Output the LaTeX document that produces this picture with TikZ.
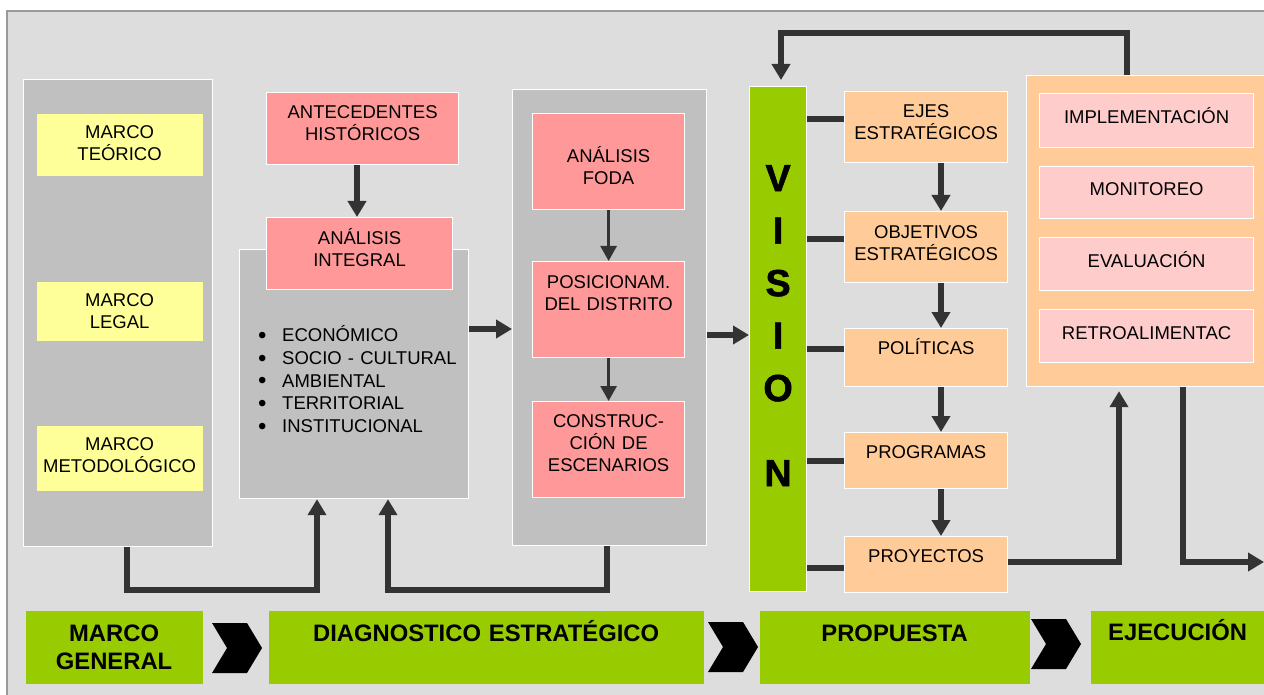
\documentclass[tikz,border=0pt]{standalone}
\usepackage{fontspec}
\setmainfont{Liberation Sans}
\newfontfamily\visionfam[FakeBold=1.6]{Liberation Sans Bold}
\usetikzlibrary{arrows.meta}

\definecolor{framefill}{HTML}{DDDDDD}
\definecolor{framegray}{HTML}{999999}
\definecolor{panelgray}{HTML}{C0C0C0}
\definecolor{marcoyellow}{HTML}{FFFF99}
\definecolor{diagred}{HTML}{FF9999}
\definecolor{propuorange}{HTML}{FFCC99}
\definecolor{ejecpink}{HTML}{FFCCCC}
\definecolor{stagegreen}{HTML}{99CC00}
\definecolor{linegray}{HTML}{333333}

\newcommand\boxfont{\fontsize{18.5}{22}\selectfont}
\newcommand\listfont{\fontsize{18.5}{22.75}\selectfont}
\newcommand\stagefont{\fontsize{23.8}{28}\selectfont\bfseries}
\newcommand\visionfont{\fontsize{37.7}{52.5}\selectfont\visionfam}
\newcommand\dimbullet{\makebox[24pt][l]{\raisebox{-1.8pt}{\fontsize{24}{24}\selectfont\textbullet}}}
\def\chevron(#1,#2){\fill[black] (#1,#2) -- ++(35,0) -- ++(15,25) -- ++(-15,25) -- ++(-35,0) -- ++(15,-25) -- cycle;}

\tikzset{
  panel/.style 2 args={rectangle, draw=white, line width=1.2pt, fill=panelgray,
    inner sep=0pt, minimum width=#1, minimum height=#2, anchor=north west},
  tbox/.style n args={3}{rectangle, draw=white, line width=1.2pt, inner sep=0pt,
    anchor=north west, align=center, text width=#1, text height=#2, text depth=#3,
    font=\boxfont},
  stage/.style n args={3}{tbox={#1}{#2}{#3}, draw=none, fill=stagegreen, font=\stagefont},
  conn/.style={draw=linegray, line width=5.5pt},
  thickarrow/.style={conn, -{Triangle[width=18pt,length=16pt]}},
  thinarrow/.style={draw=linegray, line width=2.7pt, -{Triangle[width=16pt,length=15pt]}}
}

\begin{document}
\begin{tikzpicture}[x=1pt, y=-1pt]
  %%%%% START %%%%%
  \fill[white] (0,0) rectangle (1264,695);
  \useasboundingbox (0,0) rectangle (1264,695);
  \draw[draw=framegray, fill=framefill, line width=1.5pt] (7,11) rectangle (1280,710);

  % marco general
  \node[panel={189pt}{467pt}] (marcocol) at (23,79) {};
  \node[tbox={166pt}{24.6pt}{37.4pt}, draw=none, fill=marcoyellow] (teorico) at (36,113) {MARCO\\TEÓRICO};
  \node[tbox={166pt}{24.6pt}{34.4pt}, draw=none, fill=marcoyellow] (legal) at (36,281) {MARCO\\LEGAL};
  \node[tbox={166pt}{24.6pt}{40.4pt}, draw=none, fill=marcoyellow] (metodo) at (36,425) {MARCO\\METODOLÓGICO};

  % diagnostico
  \node[tbox={192pt}{25.6pt}{46.4pt}, fill=diagred] (antec) at (266,92) {ANTECEDENTES\\HISTÓRICOS};
  \node[panel={229pt}{249pt}] (integralpanel) at (239,249) {};
  \node[tbox={186pt}{26.6pt}{45.4pt}, fill=diagred] (integral) at (266,217) {ANÁLISIS\\INTEGRAL};
  \node[anchor=base west, align=left, inner sep=0pt, text width=200pt, font=\listfont] (dims) at (258,341.6)
    {\dimbullet ECONÓMICO\\
     \dimbullet SOCIO - CULTURAL\\
     \dimbullet AMBIENTAL\\
     \dimbullet TERRITORIAL\\
     \dimbullet INSTITUCIONAL};

  \node[panel={194pt}{456pt}] (focol) at (512,89) {};
  \node[tbox={152pt}{48.6pt}{47.4pt}, fill=diagred] (foda) at (532,113) {ANÁLISIS\\FODA};
  \node[tbox={152pt}{26.6pt}{69.4pt}, fill=diagred] (posic) at (532,261) {POSICIONAM.\\DEL DISTRITO};
  \node[tbox={152pt}{25.6pt}{70.4pt}, fill=diagred] (escen) at (532,401) {CONSTRUC-\\CIÓN DE\\ESCENARIOS};

  % propuesta
  \node[tbox={57pt}{104.5pt}{400.5pt}, fill=stagegreen, font=\visionfont] (vision) at (749,86)
    {V\\I\\S\\I\\O\\[32.5pt]N};
  \node[tbox={163pt}{25.6pt}{45.4pt}, fill=propuorange] (ejes) at (844,91) {EJES\\ESTRATÉGICOS};
  \node[tbox={163pt}{26.6pt}{44.4pt}, fill=propuorange] (objetivos) at (844,211) {OBJETIVOS\\ESTRATÉGICOS};
  \node[tbox={163pt}{25.6pt}{32.4pt}, fill=propuorange] (politicas) at (844,328) {POLÍTICAS};
  \node[tbox={163pt}{25.6pt}{30.4pt}, fill=propuorange] (programas) at (844,432) {PROGRAMAS};
  \node[tbox={163pt}{25.6pt}{30.4pt}, fill=propuorange] (proyectos) at (844,536) {PROYECTOS};

  % ejecucion
  \node[panel={240pt}{311pt}, fill=propuorange] (ejecol) at (1026,75) {};
  \node[tbox={214pt}{29.6pt}{24.4pt}, fill=ejecpink] (impl) at (1039,93) {IMPLEMENTACIÓN};
  \node[tbox={214pt}{28.6pt}{23.4pt}, fill=ejecpink] (monit) at (1039,166) {MONITOREO};
  \node[tbox={214pt}{29.6pt}{23.4pt}, fill=ejecpink] (evalu) at (1039,237) {EVALUACIÓN};
  \node[tbox={214pt}{29.6pt}{23.4pt}, fill=ejecpink] (retro) at (1039,309) {RETROALIMENTAC};

  % etapas
  \node[stage={177pt}{30.5pt}{42.5pt}] (general) at (25,610) {MARCO\\GENERAL};
  \node[stage={435pt}{30.5pt}{42.5pt}] (diagnostico) at (268,610) {DIAGNOSTICO ESTRATÉGICO};
  \node[stage={270pt}{30.5pt}{42.5pt}] (propuesta) at (759,610) {PROPUESTA};
  \node[stage={174pt}{29.5pt}{43.5pt}] (ejecucion) at (1090,610) {EJECUCIÓN};
  \chevron(212,623)
  \chevron(708,622)
  \chevron(1031,619)

  % conectores
  \draw[thickarrow] (antec.south -| 357,0) -- (integral.north -| 357,0);
  \draw[thickarrow] (integralpanel.east |- 0,329) -- (focol.west |- 0,329);
  \draw[thinarrow] (foda.south) -- (posic.north);
  \draw[thinarrow] (posic.south) -- (escen.north);
  \draw[thickarrow] (focol.east |- 0,335) -- (vision.west |- 0,335);

  \draw[conn] (vision.east |- 0,119) -- (ejes.west |- 0,119);
  \draw[conn] (vision.east |- 0,239) -- (objetivos.west |- 0,239);
  \draw[conn] (vision.east |- 0,349) -- (politicas.west |- 0,349);
  \draw[conn] (vision.east |- 0,461) -- (programas.west |- 0,461);
  \draw[conn] (vision.east |- 0,568) -- (proyectos.west |- 0,568);

  \draw[thickarrow] (ejes.south -| 941,0) -- (objetivos.north -| 941,0);
  \draw[thickarrow] (objetivos.south -| 941,0) -- (politicas.north -| 941,0);
  \draw[thickarrow] (politicas.south -| 941,0) -- (programas.north -| 941,0);
  \draw[thickarrow] (programas.south -| 941,0) -- (proyectos.north -| 941,0);

  \draw[thickarrow, shorten >=4pt] (proyectos.east |- 0,562) -| (ejecol.south -| 1119,0);
  \coordinate (salida) at (1264,562);
  \draw[thickarrow] (ejecol.south -| 1183,0) |- (salida);
  \draw[thickarrow, shorten >=6pt] (ejecol.north -| 1127,0) -- (1127,33) -| (vision.north -| 781,0);

  \draw[thickarrow] (marcocol.south -| 127,0) -- (127,590) -| (integralpanel.south -| 317,0);
  \draw[thickarrow] (focol.south -| 607,0) -- (607,590) -| (integralpanel.south -| 388,0);
  %%%%% END %%%%%
\end{tikzpicture}
\end{document}
